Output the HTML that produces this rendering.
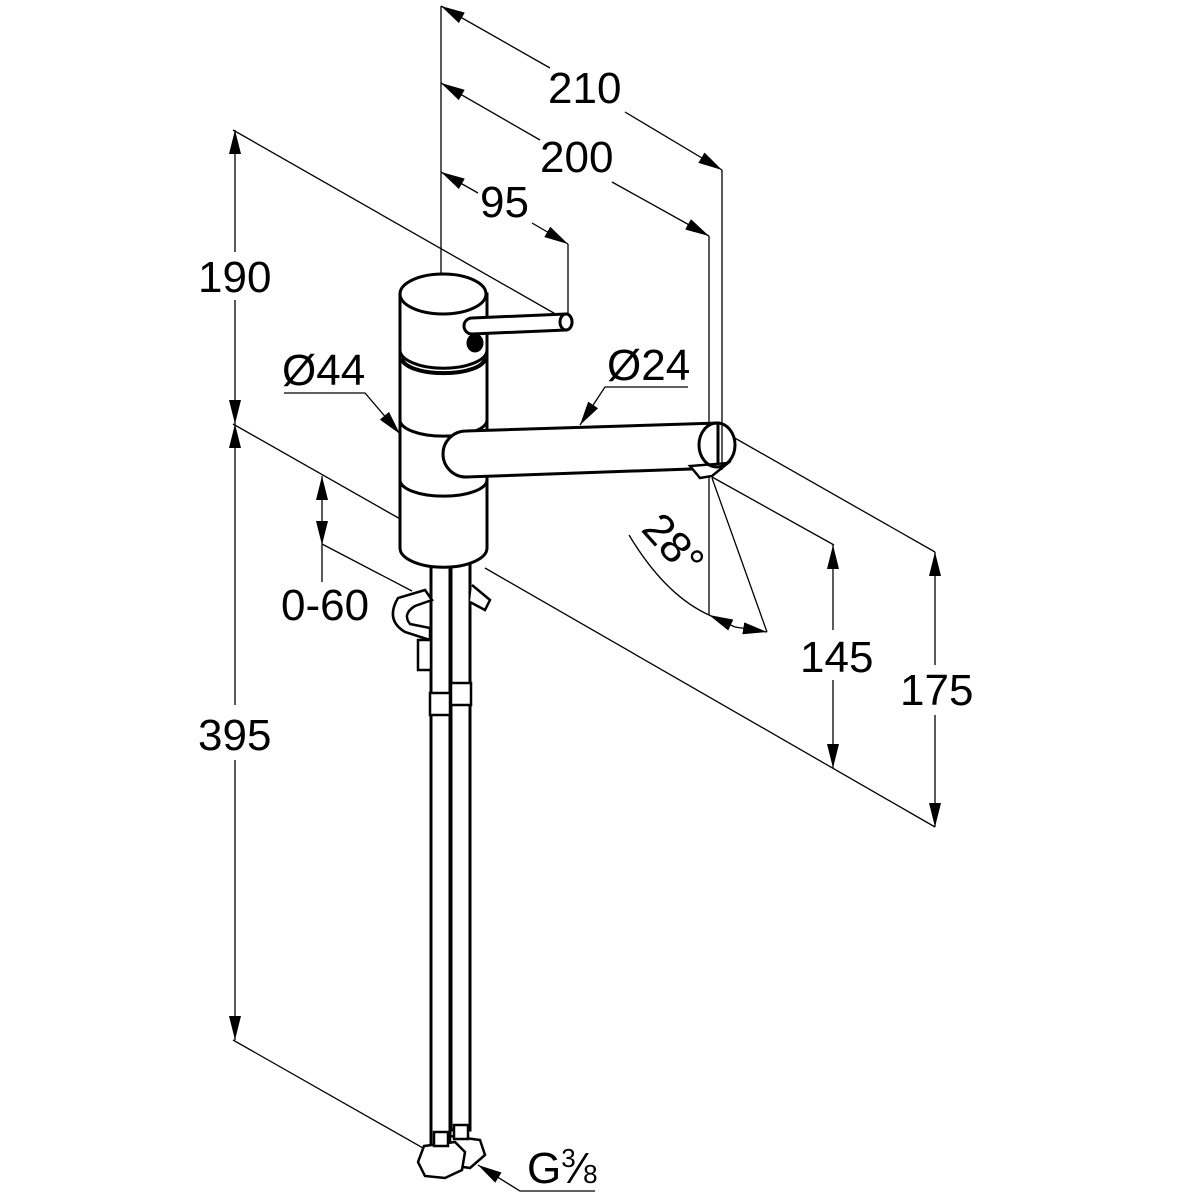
<!DOCTYPE html>
<html><head><meta charset="utf-8"><style>
html,body{margin:0;padding:0;background:#fff;}
svg{display:block;}
text{font-family:"Liberation Sans",sans-serif;font-size:44px;fill:#000;}
</style></head><body>
<svg width="1200" height="1200" viewBox="0 0 1200 1200" xmlns="http://www.w3.org/2000/svg">
<defs>
<marker id="a" viewBox="0 0 24 12" refX="24" refY="6" markerWidth="24" markerHeight="12" markerUnits="userSpaceOnUse" orient="auto-start-reverse"><path d="M0,0 L24,6 L0,12 Z" fill="#000"/></marker>
</defs>
<g stroke="#000" stroke-width="1.3" fill="none">
<line x1="441" y1="6" x2="441" y2="390"/>
<line x1="722" y1="170" x2="722" y2="470"/>
<line x1="441" y1="6" x2="550" y2="68" marker-start="url(#a)"/>
<line x1="625" y1="112" x2="722" y2="170" marker-end="url(#a)"/>
<line x1="709" y1="236" x2="709" y2="615"/>
<line x1="441" y1="83" x2="540" y2="140" marker-start="url(#a)"/>
<line x1="612" y1="182" x2="709" y2="236" marker-end="url(#a)"/>
<line x1="568" y1="244" x2="568" y2="320"/>
<line x1="441" y1="172" x2="478" y2="193" marker-start="url(#a)"/>
<line x1="532" y1="223" x2="568" y2="244" marker-end="url(#a)"/>
<line x1="233" y1="130" x2="566" y2="320"/>
<line x1="235" y1="130" x2="235" y2="252" marker-start="url(#a)"/>
<line x1="235" y1="300" x2="235" y2="424" marker-end="url(#a)"/>
<line x1="235" y1="424" x2="235" y2="705" marker-start="url(#a)"/>
<line x1="235" y1="760" x2="235" y2="1040" marker-end="url(#a)"/>
<line x1="233" y1="424" x2="402" y2="520"/>
<line x1="485" y1="568" x2="935" y2="827"/>
<line x1="233" y1="1040" x2="430" y2="1152"/>
<line x1="322" y1="476" x2="322" y2="510" marker-start="url(#a)"/>
<line x1="322" y1="510" x2="322" y2="545" marker-end="url(#a)"/>
<line x1="322" y1="545" x2="322" y2="582"/>
<line x1="322" y1="544" x2="412" y2="591"/>
<polyline points="284,393 365,393 400,434" marker-end="url(#a)"/>
<polyline points="688,387 605,387 580,425" marker-end="url(#a)"/>
<line x1="712" y1="477" x2="834" y2="545"/>
<line x1="733" y1="437" x2="935" y2="552"/>
<line x1="833" y1="545" x2="833" y2="630" marker-start="url(#a)"/>
<line x1="833" y1="680" x2="833" y2="768" marker-end="url(#a)"/>
<line x1="935" y1="552" x2="935" y2="665" marker-start="url(#a)"/>
<line x1="935" y1="715" x2="935" y2="827" marker-end="url(#a)"/>
<line x1="712" y1="478" x2="767" y2="632"/>
<path d="M629,535 Q665,595 709,615"/>
<line x1="709" y1="615" x2="735" y2="627" marker-start="url(#a)"/>
<line x1="735" y1="627" x2="767" y2="632" marker-end="url(#a)"/>
<polyline points="595,1191 520,1191 478,1165" marker-end="url(#a)"/>
</g>
<g stroke="#000" stroke-width="3" fill="#fff">
<rect x="431" y="560" width="19" height="585"/>
<rect x="451" y="560" width="19" height="570"/>
<path d="M400,294 L400,548 A43,19 0 0 0 487,548 L487,294 Z"/>
<ellipse cx="443" cy="294" rx="43" ry="20"/>
<path d="M400,350 A43,18 0 0 0 487,350" fill="none"/>
<path d="M402,358 A41,15 0 0 0 485,358" fill="none" stroke-width="4"/>
<path d="M400,420 A43,16 0 0 0 487,420" fill="none"/>
<path d="M400,480 A43,16 0 0 0 487,480" fill="none"/>
<path d="M466,431 L718,423 L718,468 L466,477 A23,23 0 0 1 466,431 Z"/>
<path d="M690,466 L700,478 L712,476 L728,463 Z" stroke-width="2.5"/>
<ellipse cx="717" cy="445" rx="18" ry="22" fill="none"/>
<path d="M472,318 L566,314 A6,8 0 0 1 566,330 L472,334 A8,8 0 0 1 472,318 Z"/>
<ellipse cx="566" cy="322" rx="6" ry="8"/>
<ellipse cx="475" cy="343" rx="7" ry="8" fill="#000"/>
<path d="M425,590 L398,598 Q385,620 405,632 L430,640 L430,628 L410,624 Q402,614 415,606 L432,600 Z" stroke-width="2.5"/>
<path d="M472,585 L490,600 L485,610 L470,602" stroke-width="2.5"/>
<rect x="418" y="640" width="13" height="30" stroke-width="2.5"/>
<rect x="430" y="693" width="20" height="22" stroke-width="2.5"/>
<rect x="451" y="683" width="20" height="22" stroke-width="2.5"/>
<path d="M450,1136 L480,1140 L485,1155 L470,1168 L450,1165 Z" stroke-width="2.5"/>
<path d="M424,1146 L455,1142 L465,1152 L462,1170 L445,1178 L425,1176 L418,1162 Z" stroke-width="2.5"/>
<rect x="434" y="1132" width="14" height="14" stroke-width="2.5"/>
<rect x="454" y="1125" width="14" height="14" stroke-width="2.5"/>
</g>
<g>
<text x="548" y="103">210</text>
<text x="540" y="172">200</text>
<text x="480" y="217">95</text>
<text x="198" y="292">190</text>
<text x="198" y="750">395</text>
<text x="282" y="385">Ø44</text>
<text x="607" y="380">Ø24</text>
<text x="281" y="620">0-60</text>
<text x="800" y="672">145</text>
<text x="900" y="705">175</text>
<text x="0" y="0" transform="translate(640,530) rotate(48)">28°</text>
<text x="527" y="1183">G<tspan font-size="26" dy="-16">3</tspan><tspan dy="16">⁄</tspan><tspan font-size="26">8</tspan></text>
</g>
</svg>
</body></html>
